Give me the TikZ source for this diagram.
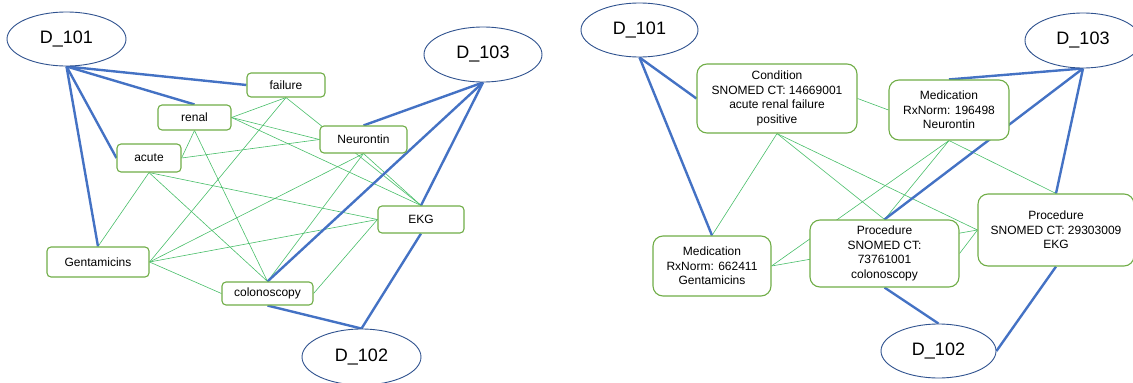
\documentclass[tikz,border=0pt]{standalone}
\usepackage{fontspec}
\setmainfont{Liberation Sans}
\usetikzlibrary{shapes.geometric,backgrounds}

\definecolor{docblue}{RGB}{47,82,143}
\definecolor{ownblue}{RGB}{68,114,196}
\definecolor{boxgreen}{RGB}{112,173,71}
\definecolor{linkgreen}{RGB}{72,190,105}

\begin{document}
\begin{tikzpicture}[x=1pt,y=-1pt,
  doc/.style={ellipse,draw=docblue,line width=0.9pt,fill=white,inner sep=0pt,
    font=\fontsize{18}{20}\selectfont},
  term/.style={rectangle,rounded corners=4pt,draw=boxgreen,line width=1.1pt,fill=white,
    inner sep=0pt,font=\fontsize{12}{14}\selectfont},
  concept/.style={rectangle,rounded corners=10pt,draw=boxgreen,line width=1.1pt,fill=white,
    inner sep=0pt,align=center,font=\fontsize{12}{14.7}\selectfont},
  link/.style={draw=linkgreen,line width=0.6pt},
  owns/.style={draw=ownblue,line width=2.4pt}]
  \useasboundingbox (0,0) rectangle (1133,383);

  % word graph
  \node[doc] (d_101) [minimum width=119pt,minimum height=54pt] at (66.5,39) {D\_101};
  \node[doc] (d_103) [minimum width=118pt,minimum height=55pt] at (483,54.5) {D\_103};
  \node[doc] (d_102) [minimum width=119pt,minimum height=56pt] at (361.5,357) {D\_102};
  \node[term] (fail) [minimum width=78pt,minimum height=24pt] at (286,85) {failure};
  \node[term] (renal) [minimum width=73pt,minimum height=25pt] at (194.5,117.5) {renal};
  \node[term] (acute) [minimum width=64pt,minimum height=28pt] at (149,158) {acute};
  \node[term] (neur) [minimum width=87pt,minimum height=27pt] at (363.5,139.5) {Neurontin};
  \node[term] (ekg) [minimum width=86pt,minimum height=27pt] at (421,219.5) {EKG};
  \node[term] (gent) [minimum width=102pt,minimum height=30pt] at (98,262) {Gentamicins};
  \node[term] (colon) [minimum width=91pt,minimum height=23pt] at (267.5,293.5) {colonoscopy};

  % concept graph
  \node[doc] (r_101) [minimum width=117pt,minimum height=54pt] at (639.5,30) {D\_101};
  \node[doc] (r_103) [minimum width=116pt,minimum height=55pt] at (1083,40.5) {D\_103};
  \node[doc] (r_102) [minimum width=115pt,minimum height=54pt] at (938.5,351) {D\_102};
  \node[concept] (cond) [minimum width=160pt,minimum height=69pt] at (777,98.5)
    {Condition\\SNOMED CT: 14669001\\acute renal failure\\positive};
  \node[concept] (med_n) [minimum width=120pt,minimum height=60pt] at (949,110)
    {Medication\\RxNorm: 196498\\Neurontin};
  \node[concept] (med_g) [minimum width=118pt,minimum height=60pt] at (712,266)
    {Medication\\RxNorm: 662411\\Gentamicins};
  \node[concept] (proc_c) [minimum width=149pt,minimum height=67pt] at (884.5,253.5)
    {Procedure\\SNOMED CT:\\73761001\\colonoscopy};
  \node[concept] (proc_e) [minimum width=156pt,minimum height=72pt] at (1056,230)
    {Procedure\\SNOMED CT: 29303009\\EKG};

  \begin{scope}[on background layer]
    \path[link]
    (fail.south) edge (renal.east)
                 edge (ekg.north)
                 edge (gent.east)
    (renal.east) edge (neur.west)
                 edge (ekg.north)
    (renal.south) edge (acute.east)
                  edge (colon.north)
    (acute.east) edge (neur.west)
    (acute.south) edge (gent.north)
                  edge (colon.north)
                  edge (ekg.west)
    (neur.south) edge (gent.east)
                 edge (colon.north)
                 edge (ekg.north)
    (gent.east) edge (ekg.west)
                edge (colon.west)
    (colon.east) edge (ekg.west);
    \path[owns]
    (d_101.south) edge (fail.west)
                  edge (renal.north)
                  edge (acute.west)
                  edge (gent.north)
    (d_103.south) edge (neur.north)
                  edge (colon.north)
                  edge (ekg.north)
    (d_102.north) edge (colon.south)
                  edge (ekg.south);

    \path[link]
    (cond.east) edge (med_n.west)
    (cond.south) edge (med_g.north)
                 edge (proc_c.north)
                 edge (proc_e.west)
    (med_n.south) edge (med_g.east)
                  edge (proc_c.north)
                  edge (proc_e.north)
    (med_g.east) edge (proc_e.west)
    (proc_c.east) edge (proc_e.west);
    \path[owns]
    (r_101.south) edge (cond.west)
                  edge (med_g.north)
    (r_103.south) edge (med_n.north)
                  edge (proc_c.north)
                  edge (proc_e.north)
    (r_102.north) edge (proc_c.south)
    (r_102.east) edge (proc_e.south);
  \end{scope}
\end{tikzpicture}
\end{document}
